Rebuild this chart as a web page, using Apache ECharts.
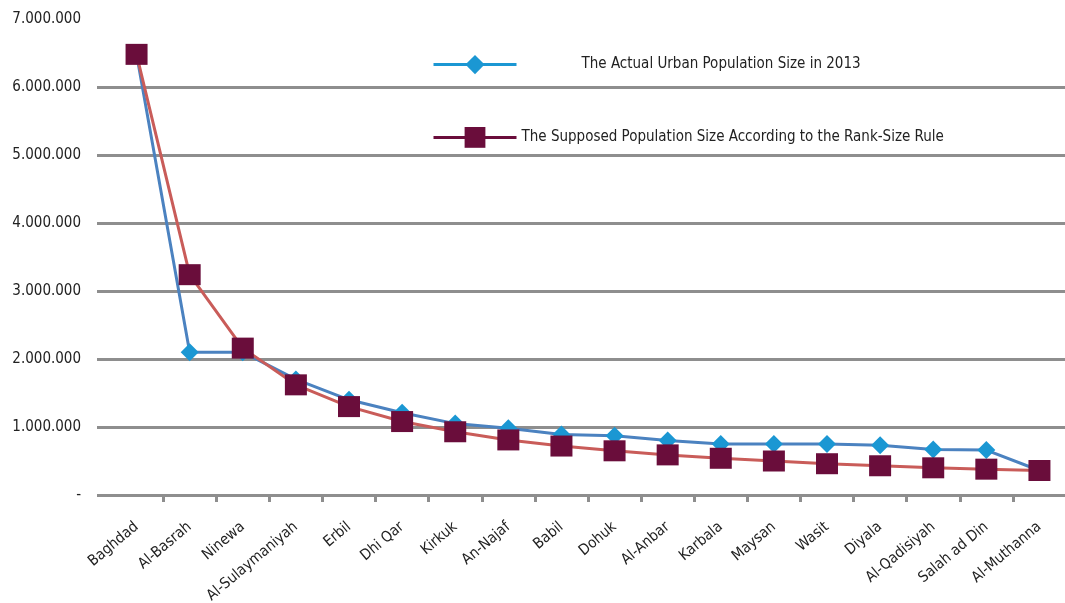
<!DOCTYPE html>
<html>
<head>
<meta charset="utf-8">
<script src="https://cdn.jsdelivr.net/npm/echarts@6/dist/echarts.min.js"></script>
<style>
  html, body { margin: 0; padding: 0; background: #fff; }
  #chart { width: 1065px; height: 603px; }
</style>
</head>
<body>
<div id="chart"></div>
<script>
var cities = ['Baghdad', 'Al-Basrah', 'Ninewa', 'Al-Sulaymaniyah', 'Erbil', 'Dhi Qar', 'Kirkuk', 'An-Najaf',
              'Babil', 'Dohuk', 'Al-Anbar', 'Karbala', 'Maysan', 'Wasit', 'Diyala', 'Al-Qadisiyah',
              'Salah ad Din', 'Al-Muthanna'];

// actual urban population 2013
var actual = [6480000, 2100000, 2100000, 1700000, 1400000, 1210000, 1050000, 980000,
              890000, 870000, 800000, 750000, 750000, 750000, 730000, 670000,
              660000, 360000];

// rank-size rule
var supposed = [6480000, 3240000, 2160000, 1620000, 1300000, 1080000, 930000, 810000,
                720000, 650000, 590000, 540000, 500000, 460000, 430000, 400000,
                380000, 360000];

var name1 = 'The Actual Urban Population Size in 2013';
var name2 = 'The Supposed Population Size According to the Rank-Size Rule';

var font = "'Liberation Sans Narrow', 'DejaVu Sans Condensed', sans-serif";
var gridGray = '#8e8e8e';

function fmt(v) {
    if (v === 0) return '-';
    return String(v).replace(/\B(?=(\d{3})+(?!\d))/g, '.');
}

var chart = echarts.init(document.getElementById('chart'));

var option = {
    animation: false,
    backgroundColor: '#fff',
    textStyle: { fontFamily: font },
    grid: [
        // background grid: labels + gridlines (extends a bit left of the data)
        { left: 97, right: 0, top: 19, bottom: 108, outerBoundsMode: 'none' },
        // data grid
        { left: 110, right: -1, top: 19, bottom: 108, outerBoundsMode: 'none' }
    ],
    legend: [
        {
            data: [name1],
            left: 432, top: 55,
            padding: 0,
            itemWidth: 83, itemHeight: 24,
            selectedMode: false,
            textStyle: { fontFamily: font, fontSize: 15, color: '#222', padding: [0, 0, 0, 60] },
            lineStyle: { color: '#1b97d3', width: 3 },
            itemStyle: { color: '#1b97d3' }
        },
        {
            data: [name2],
            left: 432, top: 127,
            padding: 0,
            itemWidth: 83, itemHeight: 26,
            selectedMode: false,
            textStyle: { fontFamily: font, fontSize: 15, color: '#222' },
            lineStyle: { color: '#6a0d3b', width: 3 },
            itemStyle: { color: '#6a0d3b' }
        }
    ],
    xAxis: [
        { gridIndex: 0, type: 'value', show: false },
        {
            gridIndex: 1,
            type: 'category',
            data: cities,
            axisLine: { show: false },
            axisTick: {
                show: true,
                length: 7,
                interval: function (i) { return i > 0 && i < cities.length; },
                lineStyle: { color: gridGray, width: 3 }
            },
            axisLabel: {
                interval: 0,
                rotate: 40,
                margin: 30,
                fontFamily: font,
                fontSize: 15,
                color: '#222'
            }
        }
    ],
    yAxis: [
        {
            gridIndex: 0,
            type: 'value',
            min: 0, max: 7000000, interval: 1000000,
            axisLine: { show: false },
            axisTick: { show: false },
            axisLabel: {
                margin: 16,
                fontFamily: font,
                fontSize: 15,
                color: '#222',
                formatter: fmt
            },
            splitLine: {
                show: true,
                showMaxLine: false,
                lineStyle: { color: gridGray, width: 3 }
            }
        },
        {
            gridIndex: 1,
            type: 'value',
            min: 0, max: 7000000, interval: 1000000,
            show: false,
            splitLine: { show: false }
        }
    ],
    series: [
        {
            name: name1,
            type: 'line',
            xAxisIndex: 1, yAxisIndex: 1,
            data: actual,
            symbol: 'diamond',
            symbolSize: [18, 18],
            lineStyle: { color: '#4b82c0', width: 3 },
            itemStyle: { color: '#1b97d3' }
        },
        {
            name: name2,
            type: 'line',
            xAxisIndex: 1, yAxisIndex: 1,
            data: supposed,
            symbol: 'rect',
            symbolSize: [22, 21],
            lineStyle: { color: '#c95c59', width: 3 },
            itemStyle: { color: '#6a0d3b' }
        }
    ]
};

chart.setOption(option);
</script>
</body>
</html>
